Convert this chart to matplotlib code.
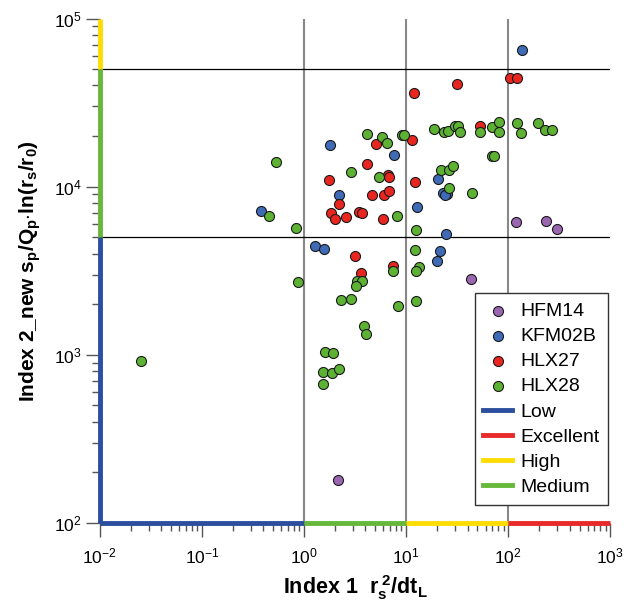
import numpy as np
import matplotlib
matplotlib.use("Agg")
import matplotlib.pyplot as plt
from matplotlib.lines import Line2D

plt.rcParams['font.family'] = ['Liberation Sans', 'DejaVu Sans']
plt.rcParams['mathtext.fontset'] = 'custom'
plt.rcParams['mathtext.rm'] = 'Liberation Sans'
plt.rcParams['mathtext.it'] = 'Liberation Sans:italic'
plt.rcParams['mathtext.bf'] = 'Liberation Sans:bold'

# index 1 (x) / index 2 (y) per borehole
hfm14_x = [120, 237, 298, 43.6, 2.15]
hfm14_y = [6160, 6290, 5600, 2820, 180]

kfm02b_x = [137, 1.80, 7.63, 2.22, 0.380, 1.29, 1.58, 20.4, 23.1, 24.9, 23.8,
            12.9, 24.7, 21.7, 20.2]
kfm02b_y = [64900, 17670, 15520, 8950, 7160, 4420, 4260, 11050, 9160, 9100, 8975,
            7565, 5230, 4140, 3640]

hlx27_x = [105, 121, 31.3, 12.0, 53.1, 5.12, 11.5, 4.18, 6.66, 6.73, 1.76, 12.3,
           4.67, 6.13, 6.86, 2.20, 1.82, 2.02, 2.57, 3.46, 3.72, 5.91, 3.13, 7.50,
           3.58]
hlx27_y = [44200, 44200, 40600, 36100, 23100, 17970, 18900, 13720, 11800, 11480,
           10950, 10610, 8875, 8910, 9480, 7860, 6940, 6400, 6620, 7050, 6970, 6460,
           3890, 3390, 3050]

hlx28_x = [18.9, 23.7, 25.5, 30.4, 32.6, 33.7, 52.6, 69.2, 80.7, 82.2, 123, 135,
           197, 232, 268, 4.18, 5.75, 6.51, 9.14, 9.51, 68.9, 72.9, 0.531, 2.90,
           5.38, 21.9, 26.6, 29.0, 26.5, 44.4, 8.22, 0.457, 0.826, 12.5, 12.1, 13.3,
           12.5, 7.50, 3.31, 3.73, 3.24, 0.883, 2.31, 2.86, 8.31, 12.4, 3.83, 4.03,
           1.61, 1.92, 1.55, 1.89, 2.20, 1.55, 0.0252]
hlx28_y = [22150, 21200, 21410, 23080, 23080, 21030, 21120, 22550, 24150, 21260,
           23890, 20890, 23790, 21860, 21860, 20470, 19660, 18090, 20350, 20410,
           15270, 15210, 13950, 12160, 11400, 12640, 12590, 13260, 9780, 9135, 6670,
           6705, 5700, 5540, 4220, 3340, 3170, 3150, 2750, 2735, 2576, 2709, 2123,
           2138, 1951, 2089, 1484, 1326, 1039, 1025, 788, 782, 826, 670, 919]

# class limits on each axis
x_class_edges = [0.01, 1, 10, 100, 1000]
x_class_names = ['Low', 'Medium', 'High', 'Excellent']
y_class_edges = [100, 5000, 50000, 100000]
y_class_names = ['Low', 'Medium', 'High']
class_colors = {'Low': '#2b4f9e', 'Medium': '#66b83a', 'High': '#ffdd00',
                'Excellent': '#e82a2a'}


def main():
    fig = plt.figure(figsize=(6.24, 6.10), dpi=100)
    ax = fig.add_axes([0.160, 0.1426, 0.818, 0.827])
    ax.set_xscale('log')
    ax.set_yscale('log')
    ax.set_xlim(0.01, 1000)
    ax.set_ylim(100, 1e5)

    # reference lines
    for v in [1, 10, 100]:
        ax.axvline(v, color='#888888', lw=1.5, zorder=1)
    for v in [5000, 50000]:
        ax.axhline(v, color='black', lw=0.9, zorder=1)

    mk = dict(s=52, edgecolors='#1a1a1a', linewidths=0.8, zorder=3)
    ax.scatter(hfm14_x, hfm14_y, c='#9b66b0', label='HFM14', **mk)
    ax.scatter(kfm02b_x, kfm02b_y, c='#3e6ab6', label='KFM02B', **mk)
    ax.scatter(hlx27_x, hlx27_y, c='#e8261f', label='HLX27', **mk)
    ax.scatter(hlx28_x, hlx28_y, c='#5db233', label='HLX28', **mk)

    # coloured class bars along the axes
    for i, name in enumerate(x_class_names):
        ax.plot(x_class_edges[i:i + 2], [100, 100], color=class_colors[name],
                lw=3.5, solid_capstyle='butt', clip_on=False, zorder=4)
    for i, name in enumerate(y_class_names):
        ax.plot([0.01, 0.01], y_class_edges[i:i + 2], color=class_colors[name],
                lw=3.5, solid_capstyle='butt', clip_on=False, zorder=4)

    for s in ax.spines.values():
        s.set_visible(False)
    ax.tick_params(which='major', direction='out', length=10, width=1,
                   color='#555555', labelsize=12.5)
    ax.tick_params(which='minor', direction='out', length=6, width=1,
                   color='#555555')
    ax.tick_params(axis='x', which='major', pad=7)
    ax.tick_params(axis='y', which='major', pad=3)

    ax.set_xlabel(r'$\mathbf{Index\ 1\ \ r_s^{\ 2}/dt_L}$', fontsize=15.5,
                  labelpad=5)
    ax.set_ylabel(r'$\mathbf{Index\ 2\_new\ s_p/Q_p{\cdot}ln(r_s/r_0)}$',
                  fontsize=15, labelpad=8)

    handles, labels = ax.get_legend_handles_labels()
    for name in ['Low', 'Excellent', 'High', 'Medium']:
        handles.append(Line2D([], [], color=class_colors[name], lw=3.5))
        labels.append(name)
    leg = ax.legend(handles, labels, loc='lower right',
                    bbox_to_anchor=(0.996, 0.036), borderaxespad=0,
                    fontsize=14, fancybox=False, edgecolor='#333333',
                    framealpha=1, handlelength=1.5, handletextpad=0.4,
                    labelspacing=0.39, borderpad=0.45, scatterpoints=1)
    leg.get_frame().set_linewidth(1.0)

    fig.savefig('out.png', dpi=100)


if __name__ == '__main__':
    main()
